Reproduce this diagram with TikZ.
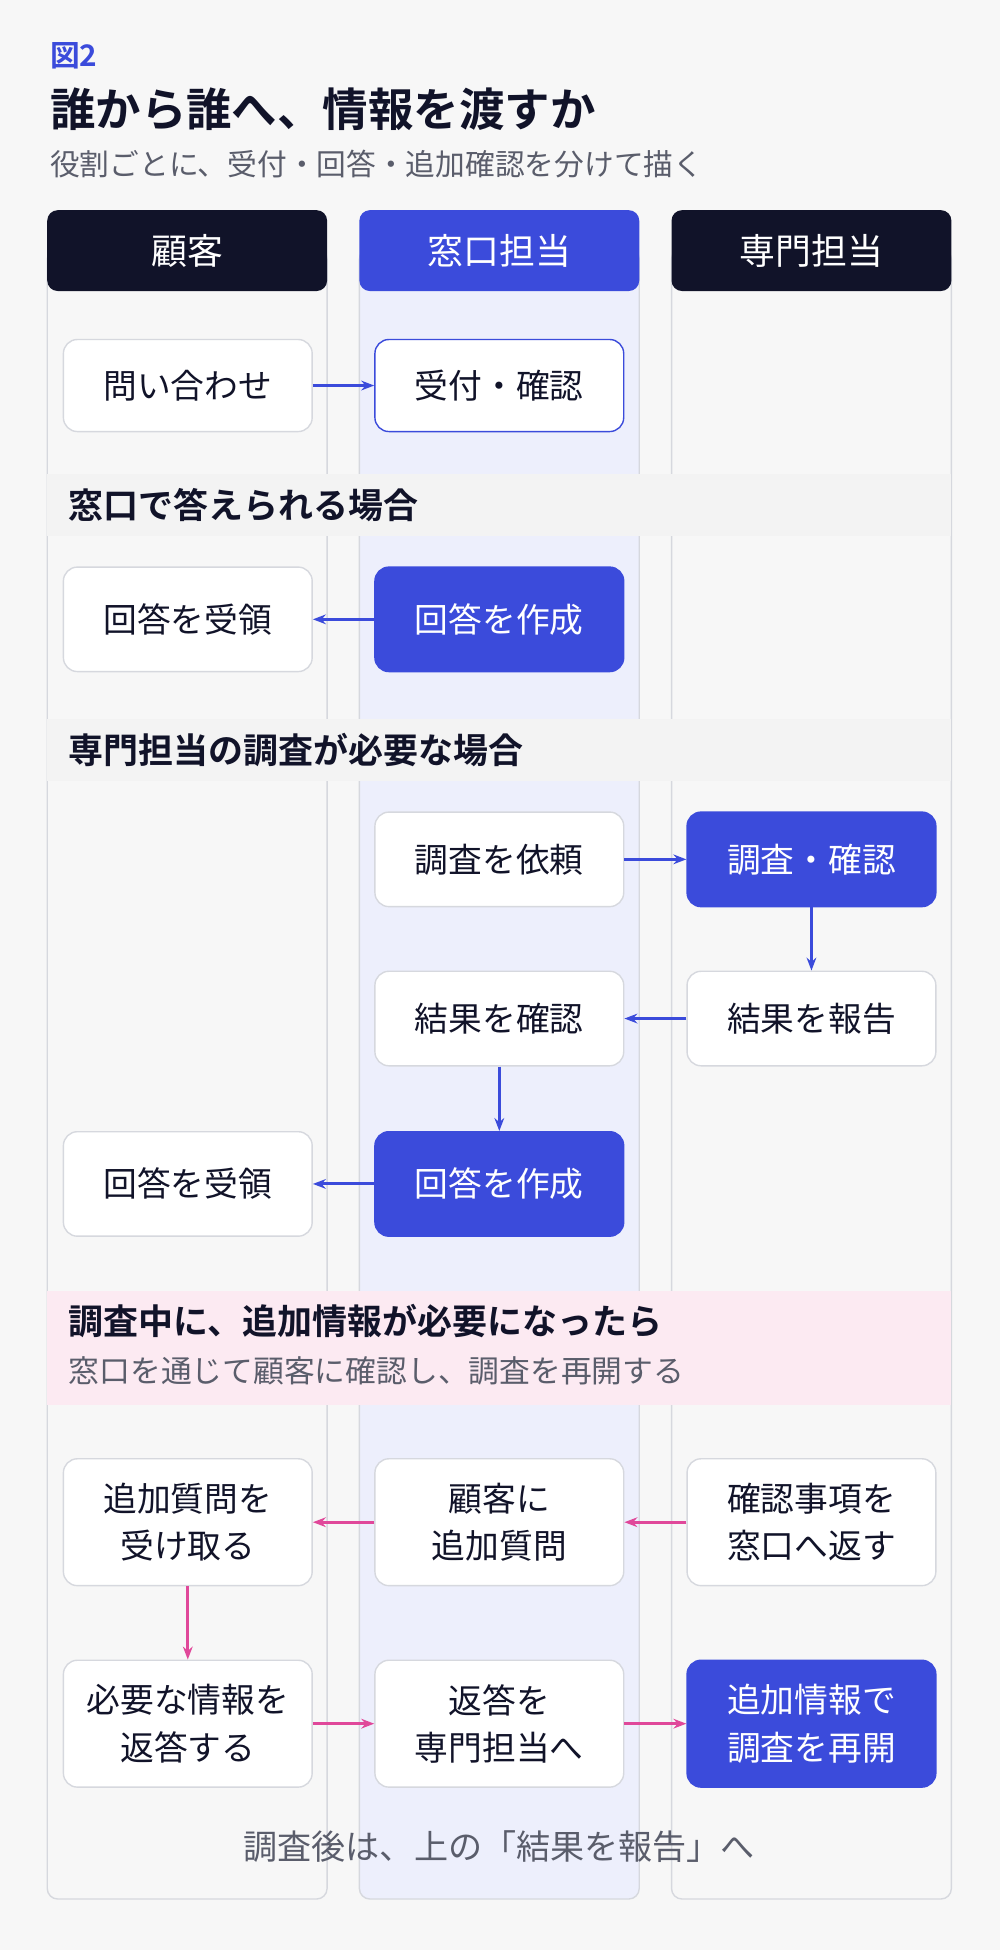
\documentclass[tikz,border=0pt]{standalone}
\usepackage{fontspec}
\setmainfont{Noto Sans CJK JP}[BoldFont={* Bold}]
\usepackage{xcolor}
\usetikzlibrary{arrows.meta, positioning, calc, backgrounds}
\definecolor{ink}{HTML}{111329}
\definecolor{accent}{HTML}{3B4BDB}
\definecolor{pinkline}{HTML}{E0489A}
\definecolor{laneline}{HTML}{D6D8DE}
\definecolor{lanefill}{HTML}{EDEFFC}
\definecolor{bandgray}{HTML}{F3F3F3}
\definecolor{bandpink}{HTML}{FCEAF2}
\definecolor{muted}{HTML}{5A5D6B}
\begin{document}
\begin{tikzpicture}[
        x=0.025cm, y=-0.025cm,
        lane/.style={draw=laneline, line width=0.8pt, rounded corners=6pt},
        head/.style={fill=ink, rounded corners=6pt, minimum width=5.625cm, minimum height=1.625cm, text=white, font=\fontsize{20.5}{24}\selectfont},
        task/.style={rectangle, draw=laneline, fill=white, line width=0.8pt, rounded corners=8pt, minimum width=5cm, align=center, text=ink, font=\fontsize{19.3}{27}\selectfont},
        hot/.style={task, draw=accent, fill=accent, text=white},
        band/.style={font=\bfseries\fontsize{20}{24}\selectfont, text=ink, anchor=west},
        arrow/.style={-{Stealth[length=2.6mm]}, line width=1.7pt, draw=accent},
        parrow/.style={arrow, draw=pinkline},
    ]
        % Page and lanes
        \fill[white!97!black] (0,0) rectangle (804,1568);
        \draw[lane] (38,200) rectangle (263,1527);
        \draw[lane, fill=lanefill] (289,200) rectangle (514,1527);
        \draw[lane] (540,200) rectangle (765,1527);
        \node[head] (hcust) at (150.5,201.5) {顧客};
        \node[head, fill=accent] (hdesk) at (401.5,201.5) {窓口担当};
        \node[head] (hspec) at (652.5,201.5) {専門担当};

        % Title
        \node[anchor=west, inner sep=0pt, text=accent, font=\bfseries\fontsize{17}{19}\selectfont] (fig) at (40,45) {図2};
        \node[anchor=west, inner sep=0pt, text=ink, font=\bfseries\fontsize{26}{30}\selectfont] (title) at (40,88) {誰から誰へ、情報を渡すか};
        \node[anchor=west, inner sep=0pt, text=muted, font=\fontsize{17}{20}\selectfont] (sub) at (40,132) {役割ごとに、受付・回答・追加確認を分けて描く};

        % Bands
        \fill[bandgray] (38,381) rectangle (765,431);
        \node[band, inner sep=0pt] (b1) at (55,406) {窓口で答えられる場合};
        \fill[bandgray] (38,578) rectangle (765,628);
        \node[band, inner sep=0pt] (b2) at (55,603) {専門担当の調査が必要な場合};
        \fill[bandpink] (38,1038) rectangle (765,1130);
        \node[band, inner sep=0pt] (b3) at (55,1062) {調査中に、追加情報が必要になったら};
        \node[anchor=west, inner sep=0pt, text=muted, font=\fontsize{17.6}{20}\selectfont] (b3sub) at (55,1102) {窓口を通じて顧客に確認し、調査を再開する};

        % Tasks
        \node[task, minimum height=1.85cm] (ask) at (151,310) {問い合わせ};
        \node[task, draw=accent, minimum height=1.85cm] (recv) at (401.5,310) {受付・確認};
        \node[task, minimum height=2.1cm] (get1) at (151,498) {回答を受領};
        \node[hot, minimum height=2.1cm] (make1) at (401.5,498) {回答を作成};
        \node[task, minimum height=1.9cm] (req) at (401.5,691) {調査を依頼};
        \node[hot, minimum height=1.9cm] (inv) at (652.5,691) {調査・確認};
        \node[task, minimum height=1.9cm] (chk) at (401.5,819) {結果を確認};
        \node[task, minimum height=1.9cm] (rep) at (652.5,819) {結果を報告};
        \node[task, minimum height=2.1cm] (get2) at (151,952) {回答を受領};
        \node[hot, minimum height=2.1cm] (make2) at (401.5,952) {回答を作成};
        \node[task, minimum height=2.55cm] (take) at (151,1224) {追加質問を\\受け取る};
        \node[task, minimum height=2.55cm] (addq) at (401.5,1224) {顧客に\\追加質問};
        \node[task, minimum height=2.55cm] (back) at (652.5,1224) {確認事項を\\窓口へ返す};
        \node[task, minimum height=2.55cm] (ans) at (151,1386) {必要な情報を\\返答する};
        \node[task, minimum height=2.55cm] (fwd) at (401.5,1386) {返答を\\専門担当へ};
        \node[hot, minimum height=2.55cm] (resume) at (652.5,1386) {追加情報で\\調査を再開};

        \node[text=muted, font=\fontsize{19.5}{23}\selectfont] (foot) at (401.5,1485) {調査後は、上の「結果を報告」へ};

        % Arrows
        \draw[arrow] (ask) -- (recv);
        \draw[arrow] (make1) -- (get1);
        \draw[arrow] (req) -- (inv);
        \draw[arrow] (inv) -- (rep);
        \draw[arrow] (rep) -- (chk);
        \draw[arrow] (chk) -- (make2);
        \draw[arrow] (make2) -- (get2);
        \draw[parrow] (back) -- (addq);
        \draw[parrow] (addq) -- (take);
        \draw[parrow] (take) -- (ans);
        \draw[parrow] (ans) -- (fwd);
        \draw[parrow] (fwd) -- (resume);
    \end{tikzpicture}
\end{document}
